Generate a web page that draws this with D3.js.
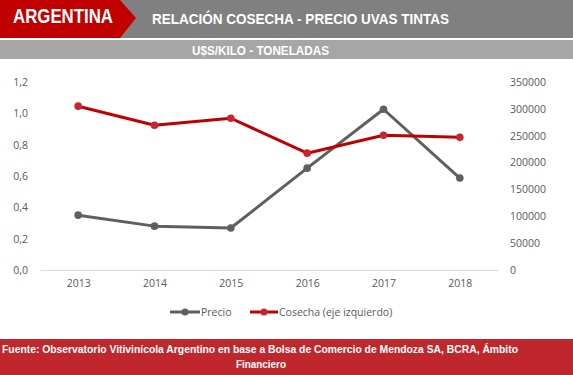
<!DOCTYPE html>
<html><head><meta charset="utf-8">
<script src="https://cdn.jsdelivr.net/npm/d3@7"></script>
<style>body{margin:0;background:#fff;}svg{display:block;}</style>
</head><body>
<svg id="c" width="573" height="375"></svg>
<script>
const years = ["2013","2014","2015","2016","2017","2018"];
const precio = [0.35, 0.28, 0.268, 0.65, 1.026, 0.587];
const cosecha = [305000, 269500, 282500, 217500, 251000, 247000];
const leftTicks = [0,0.2,0.4,0.6,0.8,1.0,1.2];
const rightTicks = [0,50000,100000,150000,200000,250000,300000,350000];

const svg = d3.select("#c");
const grayC = "#5f5f5f", redC = "#c00000", redM = "#c9252f";
const hf = "Liberation Sans, Arial";

// Header
svg.append("rect").attr("x",0).attr("y",0).attr("width",573).attr("height",38).attr("fill","#808080");
svg.append("path").attr("d","M0,0 L120,0 L136,18 L120,38 L0,38 Z").attr("fill","#c00000");
svg.append("rect").attr("x",0).attr("y",40).attr("width",573).attr("height",19).attr("fill","#a6a6a6");
svg.append("text").attr("x",13).attr("y",22.5).attr("fill","#fff").attr("font-family",hf).attr("font-weight","bold").attr("font-size",20)
  .attr("textLength",100).attr("lengthAdjust","spacingAndGlyphs").text("ARGENTINA");
svg.append("text").attr("x",152).attr("y",24).attr("fill","#fff").attr("font-family",hf).attr("font-weight","bold").attr("font-size",15)
  .attr("textLength",297).attr("lengthAdjust","spacingAndGlyphs").text("RELACIÓN COSECHA - PRECIO UVAS TINTAS");
svg.append("text").attr("x",192).attr("y",55).attr("fill","#fff").attr("font-family",hf).attr("font-weight","bold").attr("font-size",13)
  .attr("textLength",137).attr("lengthAdjust","spacingAndGlyphs").text("U$S/KILO - TONELADAS");

// Scales
const x = d3.scalePoint().domain(years).range([40,498]).padding(0.5);
const yL = d3.scaleLinear().domain([0,1.2]).range([270,82]);
const yR = d3.scaleLinear().domain([0,350000]).range([270,82]);

const tf = "Open Sans, Liberation Sans, sans-serif";
const axL = svg.append("g").attr("transform","translate(40,0)")
  .call(d3.axisLeft(yL).tickValues(leftTicks).tickSize(0).tickPadding(12).tickFormat(d=>d.toFixed(1).replace(".",",")));
const axR = svg.append("g").attr("transform","translate(498,0)")
  .call(d3.axisRight(yR).tickValues(rightTicks).tickSize(0).tickPadding(12).tickFormat(d=>String(d)));
const axB = svg.append("g").attr("transform","translate(0,270)")
  .call(d3.axisBottom(x).tickSize(0).tickPadding(10));
[axL,axR].forEach(a=>a.select(".domain").remove());
axB.select(".domain").attr("stroke","#d9d9d9");
svg.selectAll(".tick text").attr("fill","#595959").attr("font-family",tf).attr("font-size",10.5);

// Lines
function drawSeries(vals, ys, lc, mc){
  const line = d3.line().x((d,i)=>x(years[i])).y(d=>ys(d));
  svg.append("path").datum(vals).attr("d",line).attr("fill","none").attr("stroke",lc).attr("stroke-width",3).attr("stroke-linejoin","round");
  svg.append("g").selectAll("circle").data(vals).join("circle")
    .attr("cx",(d,i)=>x(years[i])).attr("cy",d=>ys(d)).attr("r",3.8).attr("fill",mc);
}
drawSeries(precio, yL, grayC, grayC);
drawSeries(cosecha, yR, redC, redM);

// Legend
const lg = svg.append("g");
lg.append("line").attr("x1",170).attr("x2",200).attr("y1",312).attr("y2",312).attr("stroke",grayC).attr("stroke-width",3);
lg.append("circle").attr("cx",185).attr("cy",312).attr("r",3.5).attr("fill",grayC);
lg.append("text").attr("x",201).attr("y",316).attr("fill","#595959").attr("font-family",tf).attr("font-size",10.5).text("Precio");
lg.append("line").attr("x1",250).attr("x2",278).attr("y1",312).attr("y2",312).attr("stroke",redC).attr("stroke-width",3);
lg.append("circle").attr("cx",264).attr("cy",312).attr("r",3.5).attr("fill",redM);
lg.append("text").attr("x",279).attr("y",316).attr("fill","#595959").attr("font-family",tf).attr("font-size",10.5).text("Cosecha (eje izquierdo)");

// Footer
svg.append("rect").attr("x",0).attr("y",339).attr("width",573).attr("height",36).attr("fill","#c0272d");
const ff = {fill:"#fff", "font-family":hf, "font-weight":"bold", "font-size":11};
const t1 = svg.append("text").attr("x",2).attr("y",353).text("Fuente: Observatorio Vitivinícola Argentino en base a Bolsa de Comercio de Mendoza SA, BCRA, Ámbito")
  .attr("textLength",516).attr("lengthAdjust","spacingAndGlyphs");
const t2 = svg.append("text").attr("x",261).attr("y",368).attr("text-anchor","middle").text("Financiero")
  .attr("textLength",50).attr("lengthAdjust","spacingAndGlyphs");
[t1,t2].forEach(t=>Object.entries(ff).forEach(([k,v])=>t.attr(k,v)));
</script>
</body></html>
